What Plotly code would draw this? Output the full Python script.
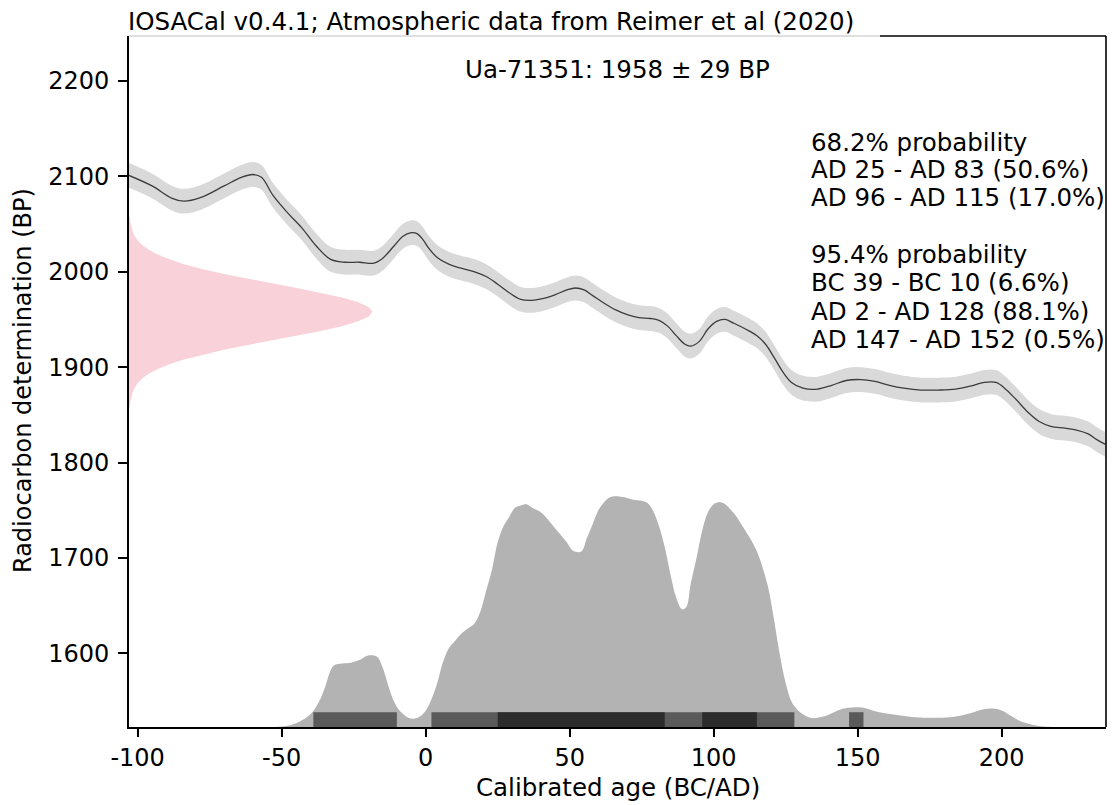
import plotly.graph_objects as go

# ---------------- data ----------------
# IntCal20 atmospheric curve: calendar year, mean BP
curve_year = [-103, -95, -88, -84, -78, -70, -64, -60, -57, -53, -48, -43, -38, -33, -28, -23,
              -18, -15, -11, -8, -5, -3, -1, 1, 4, 8, 12, 17, 21, 25, 29, 33, 37, 41, 45, 49,
              52, 55, 58, 62, 66, 70, 74, 78, 81, 84, 87, 90, 92, 95, 98, 101, 104, 107, 111,
              115, 118, 121, 124, 127, 131, 136, 141, 146, 151, 156, 161, 166, 172, 178, 184,
              189, 194, 198, 201, 205, 209, 213, 217, 222, 226, 230, 233, 236]
curve_bp = [2101, 2090, 2077, 2074, 2078, 2090, 2099, 2102, 2099, 2080, 2062, 2046, 2027, 2013,
            2010, 2010, 2009, 2014, 2027, 2037, 2041, 2040, 2034, 2025, 2015, 2008, 2004, 2000,
            1995, 1987, 1978, 1971, 1970, 1972, 1976, 1981, 1983, 1981, 1975, 1967, 1960, 1955,
            1952, 1951, 1949, 1943, 1933, 1924, 1922, 1927, 1940, 1948, 1950, 1946, 1940, 1933,
            1924, 1910, 1895, 1884, 1878, 1877, 1881, 1886, 1887, 1885, 1881, 1878, 1876, 1876,
            1877, 1880, 1884, 1884, 1878, 1866, 1853, 1843, 1838, 1836, 1834, 1830, 1824, 1819]
curve_sigma = 13  # BP

# Radiocarbon determination
lab_id = "Ua-71351"
det_bp = 1958
det_sigma = 29
# relative density of the determination, at offsets from the mean (BP)
det_offset = [-100, -95, -90, -85, -80, -75, -70, -65, -60, -55, -50, -45, -40, -35, -30, -25,
              -20, -15, -10, -5, 0, 5, 10, 15, 20, 25, 30, 35, 40, 45, 50, 55, 60, 65, 70, 75,
              80, 85, 90, 95, 100]
det_density = [0.003, 0.005, 0.008, 0.014, 0.022, 0.035, 0.054, 0.081, 0.118, 0.166, 0.226,
               0.300, 0.386, 0.483, 0.586, 0.690, 0.788, 0.875, 0.942, 0.985, 1.000, 0.985,
               0.942, 0.875, 0.788, 0.690, 0.586, 0.483, 0.386, 0.300, 0.226, 0.166, 0.118,
               0.081, 0.054, 0.035, 0.022, 0.014, 0.008, 0.005, 0.003]

# Calibrated probability distribution (relative)
cal_year = [-52, -48, -44, -40, -37, -35, -32, -29, -26, -23, -20, -17, -15, -13, -11, -9, -6,
            -4, -2, 0, 2, 4, 6, 8, 10, 12, 15, 17, 19, 21, 23, 25, 27, 29, 31, 33, 35, 37, 40,
            43, 46, 49, 51, 54, 56, 58, 60, 62, 64, 66, 69, 72, 75, 77, 79, 81, 83, 85, 87, 89,
            90.5, 92, 94, 96, 98, 100, 102, 104, 106, 108, 110, 113, 115, 117, 119, 121, 123,
            125, 127, 129, 131, 133, 135, 138, 141, 145, 148, 152, 156, 160, 165, 170, 176,
            182, 186, 190, 194, 197, 200, 203, 206, 209, 213, 217]
cal_prob = [0, 0.005, 0.022, 0.055, 0.11, 0.17, 0.265, 0.275, 0.278, 0.29, 0.31, 0.305, 0.26,
            0.18, 0.11, 0.07, 0.04, 0.036, 0.045, 0.07, 0.12, 0.19, 0.28, 0.34, 0.37, 0.40,
            0.43, 0.45, 0.50, 0.59, 0.68, 0.80, 0.87, 0.91, 0.95, 0.96, 0.965, 0.95, 0.93,
            0.89, 0.845, 0.80, 0.765, 0.76, 0.82, 0.88, 0.94, 0.975, 0.995, 1.0, 0.995, 0.985,
            0.98, 0.97, 0.935, 0.87, 0.78, 0.66, 0.56, 0.51, 0.52, 0.62, 0.73, 0.85, 0.93,
            0.965, 0.975, 0.965, 0.94, 0.91, 0.87, 0.81, 0.76, 0.69, 0.60, 0.46, 0.31, 0.19,
            0.11, 0.075, 0.055, 0.042, 0.038, 0.045, 0.06, 0.08, 0.085, 0.083, 0.068, 0.058,
            0.05, 0.042, 0.04, 0.042, 0.05, 0.063, 0.078, 0.08, 0.072, 0.05, 0.028, 0.015,
            0.004, 0]

# probability intervals (start, end)
ranges_95 = [(-39, -10), (2, 128), (147, 152)]
ranges_68 = [(25, 83), (96, 115)]
range_labels = ["68.2% probability",
                "AD 25 - AD 83 (50.6%)",
                "AD 96 - AD 115 (17.0%)",
                "",
                "95.4% probability",
                "BC 39 - BC 10 (6.6%)",
                "AD 2 - AD 128 (88.1%)",
                "AD 147 - AD 152 (0.5%)"]

x_ticks = [-100, -50, 0, 50, 100, 150, 200]
y_ticks = [1600, 1700, 1800, 1900, 2000, 2100, 2200]
title_text = "IOSACal v0.4.1; Atmospheric data from Reimer et al (2020)"

# ---------------- layout constants ----------------
W, H = 1117, 805
ML, MR, MT, MB = 129, 11, 36, 78
XMIN, XMAX = -103.0, 236.2
YMIN, YMAX = 1522.7, 2247.2
FONT = "DejaVu Sans"
FS = 24.5
TFS = 24
pw, ph = W - ML - MR, H - MT - MB


def px_x(px):
    return (px - ML) / pw


def px_y(py):
    return (H - MB - py) / ph


fig = go.Figure()

# pink determination
det_amp = 84.5
px_ = [XMIN + det_amp * d for d in det_density]
py_ = [det_bp + o for o in det_offset]
fig.add_trace(go.Scatter(x=[XMIN] + px_ + [XMIN], y=[py_[0]] + py_ + [py_[-1]],
                         fill="toself", fillcolor="#f9d1d8", line=dict(width=0),
                         mode="lines", hoverinfo="skip"))

# calibration curve band
upper = [m + curve_sigma for m in curve_bp]
lower = [m - curve_sigma for m in curve_bp]
fig.add_trace(go.Scatter(x=curve_year, y=upper, mode="lines", line=dict(width=0, shape="spline"),
                         hoverinfo="skip"))
fig.add_trace(go.Scatter(x=curve_year, y=lower, mode="lines", line=dict(width=0, shape="spline"),
                         fill="tonexty", fillcolor="#d9d9d9", hoverinfo="skip"))
fig.add_trace(go.Scatter(x=curve_year, y=curve_bp, mode="lines",
                         line=dict(color="#3c3c3c", width=1.3, shape="spline"), hoverinfo="skip"))

# calibrated distribution
cal_scale = 242.0
cy = [YMIN + cal_scale * p for p in cal_prob]
fig.add_trace(go.Scatter(x=[cal_year[0]] + cal_year + [cal_year[-1]], y=[YMIN] + cy + [YMIN],
                         fill="toself", fillcolor="#b3b3b3", mode="lines",
                         line=dict(width=0, shape="spline"), hoverinfo="skip"))

# interval bars
bar_h = 15.5
shapes = []
for a, b in ranges_95:
    shapes.append(dict(type="rect", xref="x", yref="y", x0=a, x1=b, y0=YMIN, y1=YMIN + bar_h,
                       fillcolor="#5a5a5a", line=dict(width=0), layer="above"))
for a, b in ranges_68:
    shapes.append(dict(type="rect", xref="x", yref="y", x0=a, x1=b, y0=YMIN, y1=YMIN + bar_h,
                       fillcolor="#2c2c2c", line=dict(width=0), layer="above"))

# frame: right spine and top spine (partly greyed below title)
shapes.append(dict(type="line", xref="paper", yref="paper", x0=1, x1=1, y0=0, y1=1,
                   line=dict(color="black", width=1.6), layer="above"))
shapes.append(dict(type="line", xref="paper", yref="paper", x0=0, x1=px_x(880), y0=1, y1=1,
                   line=dict(color="#d4d4d4", width=1.6), layer="above"))
shapes.append(dict(type="line", xref="paper", yref="paper", x0=px_x(880), x1=1, y0=1, y1=1,
                   line=dict(color="black", width=1.6), layer="above"))

annotations = []
annotations.append(dict(text=title_text, xref="paper", yref="paper", x=px_x(126), y=px_y(21),
                        xanchor="left", yanchor="middle", showarrow=False,
                        font=dict(family=FONT, size=FS, color="black")))
annotations.append(dict(text=f"{lab_id}: {det_bp} ± {det_sigma} BP", xref="paper", yref="paper",
                        x=0.5, y=px_y(70), xanchor="center", yanchor="middle",
                        showarrow=False, font=dict(family=FONT, size=FS, color="black")))
line_y = [142, 170, 198, 226, 254, 282, 311, 339]
for t, ly in zip(range_labels, line_y):
    if t:
        annotations.append(dict(text=t, xref="paper", yref="paper", x=px_x(809), y=px_y(ly),
                                xanchor="left", yanchor="middle", showarrow=False,
                                font=dict(family=FONT, size=FS, color="black")))
annotations.append(dict(text="Calibrated age (BC/AD)", xref="paper", yref="paper",
                        x=0.5, y=px_y(787), xanchor="center", yanchor="middle",
                        showarrow=False, font=dict(family=FONT, size=FS, color="black")))
annotations.append(dict(text="Radiocarbon determination (BP)", xref="paper", yref="paper",
                        x=px_x(23), y=px_y(381), xanchor="center", yanchor="middle",
                        textangle=-90, showarrow=False,
                        font=dict(family=FONT, size=TFS, color="black")))

fig.update_layout(
    width=W, height=H, margin=dict(l=ML, r=MR, t=MT, b=MB, autoexpand=False),
    paper_bgcolor="white", plot_bgcolor="white", showlegend=False,
    shapes=shapes, annotations=annotations,
    xaxis=dict(range=[XMIN, XMAX], tickvals=x_ticks, ticktext=[str(v) for v in x_ticks],
               showgrid=False, zeroline=False, showline=True, linecolor="black", linewidth=1.6,
               ticks="outside", ticklen=8, tickwidth=1.5, tickcolor="black",
               tickfont=dict(family=FONT, size=TFS, color="black")),
    yaxis=dict(range=[YMIN, YMAX], tickvals=y_ticks, ticktext=[str(v) for v in y_ticks],
               showgrid=False, zeroline=False, showline=True, linecolor="black", linewidth=1.6,
               ticks="outside", ticklen=9, tickwidth=1.5, tickcolor="black",
               ticklabelstandoff=4,
               tickfont=dict(family=FONT, size=TFS, color="black")),
)

fig.write_html("out.html")
